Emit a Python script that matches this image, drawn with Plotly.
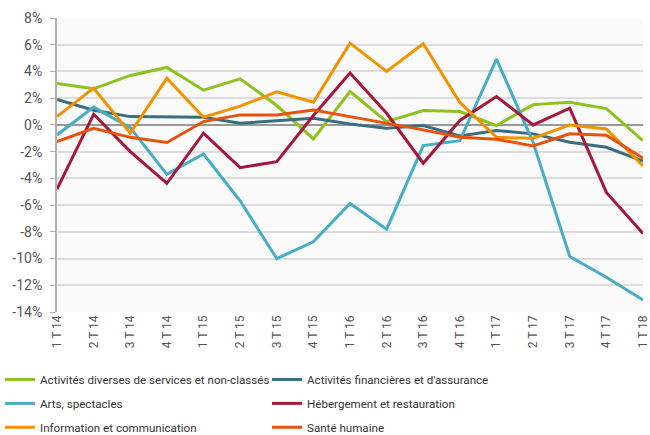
import plotly.graph_objects as go

categories = ["1 T 14", "2 T 14", "3 T 14", "4 T 14", "1 T 15", "2 T 15", "3 T 15", "4 T 15",
              "1 T 16", "2 T 16", "3 T 16", "4 T 16", "1 T 17", "2 T 17", "3 T 17", "4 T 17", "1 T 18"]

diverses = [3.1, 2.7, 3.7, 4.3, 2.6, 3.45, 1.45, -1.05, 2.5, 0.25, 1.07, 1.0, -0.05, 1.52, 1.7, 1.22, -1.18]
financieres = [1.9, 1.1, 0.62, 0.62, 0.57, 0.12, 0.3, 0.5, 0.07, -0.25, -0.05, -0.82, -0.42, -0.67, -1.3, -1.67, -2.7]
arts = [-0.75, 1.33, -0.2, -3.7, -2.18, -5.68, -10.0, -8.75, -5.88, -7.8, -1.55, -1.18, 4.93, -1.3, -9.85, -11.4, -13.1]
hebergement = [-4.8, 0.8, -2.0, -4.37, -0.62, -3.2, -2.75, 0.7, 3.88, 0.87, -2.87, 0.33, 2.12, 0.0, 1.25, -5.05, -8.12]
information = [0.62, 2.75, -0.62, 3.5, 0.57, 1.4, 2.47, 1.7, 6.12, 4.0, 6.07, 1.68, -0.93, -1.0, 0.0, -0.3, -3.07]
sante = [-1.25, -0.25, -0.93, -1.32, 0.25, 0.75, 0.75, 1.12, 0.62, 0.12, -0.37, -0.93, -1.07, -1.57, -0.67, -0.77, -2.5]

series = [
    ("Activités diverses de services et non-classés", diverses, "#8dc21f", "legend"),
    ("Activités financières et d'assurance", financieres, "#3a6e7f", "legend"),
    ("Arts, spectacles", arts, "#47adc7", "legend2"),
    ("Hébergement et restauration", hebergement, "#a6173c", "legend2"),
    ("Information et communication", information, "#f39200", "legend3"),
    ("Santé humaine", sante, "#e8520f", "legend3"),
]

y_ticks = list(range(-14, 10, 2))
y_labels = [f"{v}%" for v in y_ticks]

fig = go.Figure()
for name, vals, color, lg in series:
    fig.add_trace(go.Scatter(x=list(range(len(categories))), y=vals, name=name, mode="lines",
                             line=dict(color=color, width=3), legend=lg))

def legend_cfg(ypos):
    return dict(orientation="h", xref="container", yref="container",
                x=0, xanchor="left", y=ypos, yanchor="top",
                entrywidth=222, entrywidthmode="pixels",
                font=dict(family="Roboto", size=11.6, color="#333333"),
                itemwidth=30, bgcolor="rgba(0,0,0,0)")

fig.update_layout(
    width=650, height=435,
    margin=dict(l=57, r=7, t=18, b=123),
    paper_bgcolor="white",
    plot_bgcolor="#fafafa",
    font=dict(family="Roboto", size=13, color="#555555"),
    showlegend=True,
    legend=legend_cfg(0.161),
    legend2=legend_cfg(0.106),
    legend3=legend_cfg(0.051),
    xaxis=dict(tickmode="array", tickvals=list(range(len(categories))), ticktext=categories,
               range=[0, len(categories) - 1], tickangle=-90, showgrid=False, zeroline=False,
               showline=False, ticks="", automargin=False,
               tickfont=dict(size=12, color="#555555")),
    yaxis=dict(tickmode="array", tickvals=y_ticks, ticktext=y_labels, range=[-14, 8],
               showgrid=True, gridcolor="#dcdcdc", gridwidth=1.5,
               zeroline=True, zerolinecolor="#999999", zerolinewidth=1.5,
               showline=True, linecolor="#b0b0b0", linewidth=2,
               ticks="outside", ticklen=5, tickcolor="#b0b0b0", automargin=False,
               ticklabelstandoff=5,
               tickfont=dict(size=14, color="#555555")),
)

fig.write_html("out.html", config={"displayModeBar": False},
               post_script="document.body.style.margin='0';document.body.style.overflow='hidden';")
